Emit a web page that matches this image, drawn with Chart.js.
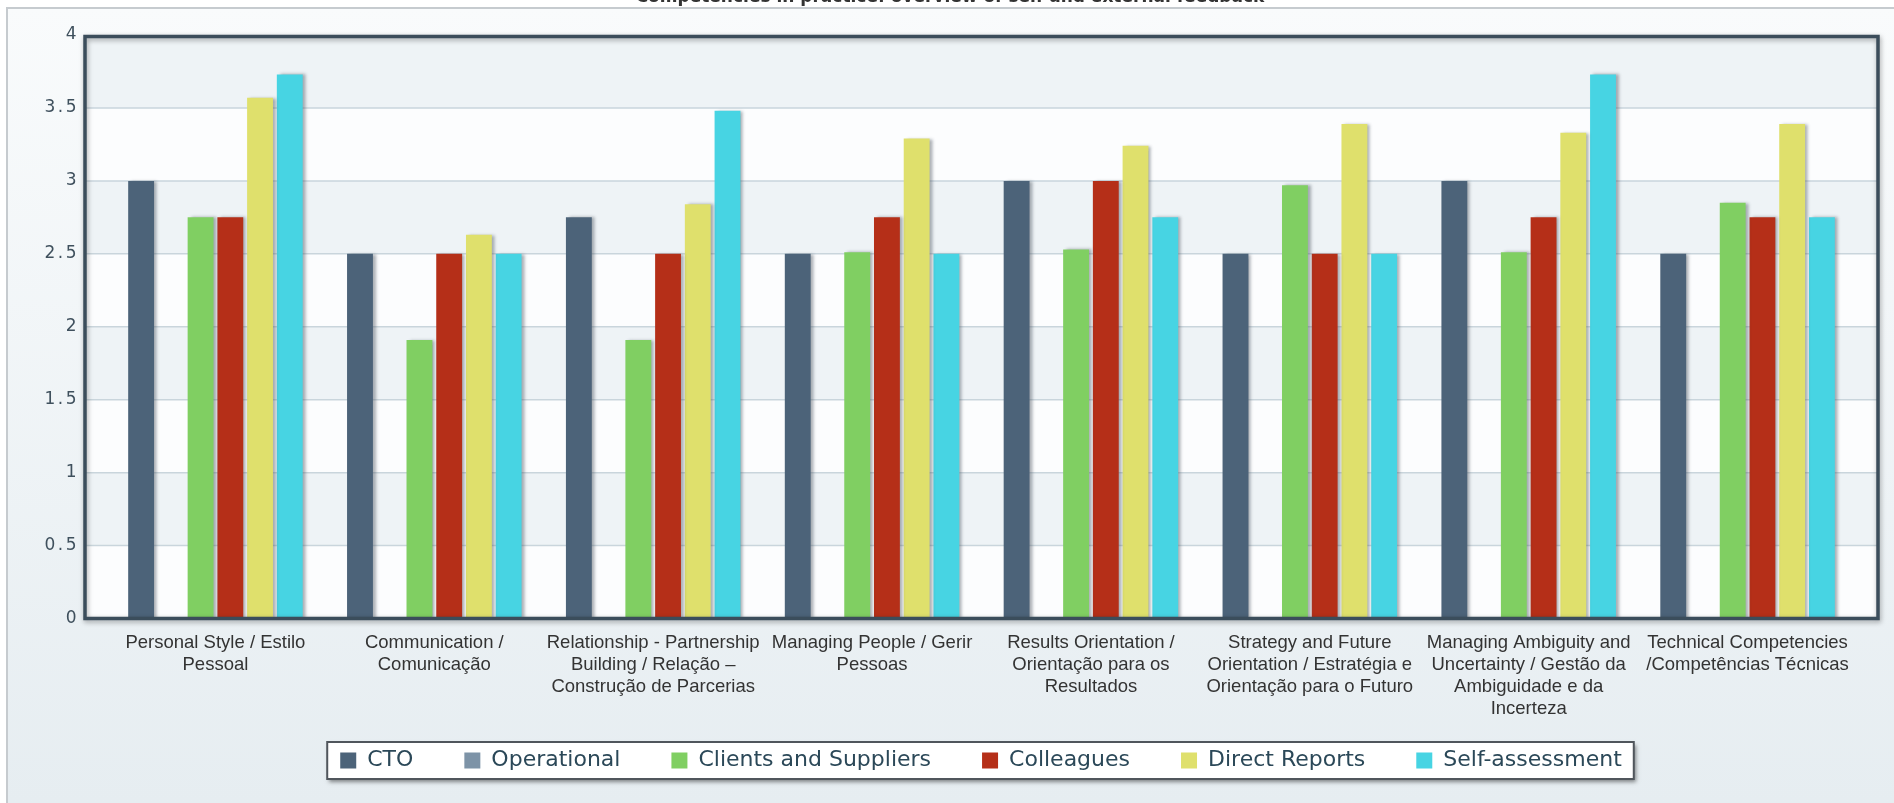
<!DOCTYPE html>
<html>
<head>
<meta charset="utf-8">
<title>Competencies in practice</title>
<script src="https://cdn.jsdelivr.net/npm/chart.js@4.4.1/dist/chart.umd.min.js"></script>
<style>
  html, body { margin: 0; padding: 0; background: #ffffff; overflow: hidden; }
  #wrap { position: relative; width: 1894px; height: 803px; }
</style>
</head>
<body>
<div id="wrap"><canvas id="chart"></canvas></div>
<script>
// ---- data ----
const chartTitle = 'Competencies in practice: overview of self and external feedback';

const categories = [
  ['Personal Style / Estilo', 'Pessoal'],
  ['Communication /', 'Comunicação'],
  ['Relationship - Partnership', 'Building / Relação –', 'Construção de Parcerias'],
  ['Managing People / Gerir', 'Pessoas'],
  ['Results Orientation /', 'Orientação para os', 'Resultados'],
  ['Strategy and Future', 'Orientation / Estratégia e', 'Orientação para o Futuro'],
  ['Managing Ambiguity and', 'Uncertainty / Gestão da', 'Ambiguidade e da', 'Incerteza'],
  ['Technical Competencies', '/Competências Técnicas']
];

const seriesNames = ['CTO', 'Operational', 'Clients and Suppliers', 'Colleagues', 'Direct Reports', 'Self-assessment'];

const ctoValues          = [3.00, 2.50, 2.75, 2.50, 3.00, 2.50, 3.00, 2.50];
const operationalValues  = [null, null, null, null, null, null, null, null];
const clientsValues      = [2.75, 1.91, 1.91, 2.51, 2.53, 2.97, 2.51, 2.85];
const colleaguesValues   = [2.75, 2.50, 2.50, 2.75, 3.00, 2.50, 2.75, 2.75];
const directValues       = [3.57, 2.63, 2.84, 3.29, 3.24, 3.39, 3.33, 3.39];
const selfValues         = [3.73, 2.50, 3.48, 2.50, 2.75, 2.50, 3.73, 2.75];

const yMin = 0;
const yMax = 4;
const yStep = 0.5;

// ---- styling ----
const seriesColors = ['#4c6379', '#7d93a7', '#80cf62', '#b52f18', '#dfe06c', '#47d4e3'];
const seriesValues = [ctoValues, operationalValues, clientsValues, colleaguesValues, directValues, selfValues];

const FRAME_PAD_LEFT = 21;
const FRAME_PAD_RIGHT = 21;
const FRAME_TOP_INSET = 1.5;
const LEGEND_CENTER_X = 980.5;
const LEGEND_CENTER_Y = 760.5;
const TITLE_CENTER_X = 950;

// Places the bordered legend strip and the title
const placementPlugin = {
  id: 'placement',
  afterLayout(chart) {
    const tb = chart.titleBlock;
    if (tb) {
      const dxT = TITLE_CENTER_X - (tb.left + tb.right) / 2;
      tb.left += dxT; tb.right += dxT;
    }
  },
  afterUpdate(chart) {
    const lg = chart.legend;
    const hb = lg && lg.legendHitBoxes;
    if (hb && hb.length) {
      const first = hb[0], last = hb[hb.length - 1];
      const cx = ((first.left - 13) + (last.left + last.width + 12)) / 2;
      const cy = first.top + first.height / 2;
      const dx = LEGEND_CENTER_X - cx, dy = LEGEND_CENTER_Y - cy;
      lg.left += dx; lg.right += dx; lg.top += dy; lg.bottom += dy;
      hb.forEach(h => { h.left += dx; h.top += dy; });
    }
  }
};

// Outer panel, banded plot background, gridlines and the legend box
const backdropPlugin = {
  id: 'backdrop',
  beforeDraw(chart) {
    const { ctx, chartArea: a, scales: { y } } = chart;
    const W = chart.width, H = chart.height;
    ctx.save();
    const g = ctx.createLinearGradient(0, 8, 0, H);
    g.addColorStop(0, '#f9fbfc');
    g.addColorStop(1, '#e6edf1');
    ctx.fillStyle = g;
    ctx.fillRect(7, 8, W - 7, H - 8);
    ctx.strokeStyle = '#c6cbcf';
    ctx.lineWidth = 2;
    ctx.beginPath();
    ctx.moveTo(7, H);
    ctx.lineTo(7, 8);
    ctx.lineTo(W, 8);
    ctx.stroke();

    const L = a.left - FRAME_PAD_LEFT, R = a.right + FRAME_PAD_RIGHT;
    const vals = y.ticks.map(t => t.value);
    for (let i = 0; i < vals.length - 1; i++) {
      const y0 = y.getPixelForValue(vals[i]);
      const y1 = y.getPixelForValue(vals[i + 1]);
      ctx.fillStyle = (i % 2 === 1) ? '#eef3f6' : '#fcfdfe';
      ctx.fillRect(L, y1, R - L, y0 - y1);
    }
    ctx.strokeStyle = '#c9d5dc';
    ctx.lineWidth = 1.5;
    for (let i = 1; i < vals.length - 1; i++) {
      const py = y.getPixelForValue(vals[i]);
      ctx.beginPath();
      ctx.moveTo(L, py);
      ctx.lineTo(R, py);
      ctx.stroke();
    }

    const hb = chart.legend && chart.legend.legendHitBoxes;
    if (hb && hb.length) {
      const first = hb[0], last = hb[hb.length - 1];
      const x0 = first.left - 13, x1 = last.left + last.width + 12;
      const cy = first.top + first.height / 2;
      ctx.shadowColor = 'rgba(0,0,0,0.45)';
      ctx.shadowBlur = 4;
      ctx.shadowOffsetX = 2;
      ctx.shadowOffsetY = 3;
      ctx.fillStyle = '#ffffff';
      ctx.fillRect(x0, cy - 18.5, x1 - x0, 37);
      ctx.shadowColor = 'transparent';
      ctx.strokeStyle = '#50565c';
      ctx.lineWidth = 2;
      ctx.strokeRect(x0, cy - 18.5, x1 - x0, 37);
    }
    ctx.restore();
  }
};

// Bar shadows, the dark plot frame and spacing for the value axis labels
const framePlugin = {
  id: 'frame',
  beforeDatasetsDraw(chart) {
    const ctx = chart.ctx;
    ctx.save();
    ctx.shadowColor = 'rgba(70,80,90,0.45)';
    ctx.shadowBlur = 3;
    ctx.shadowOffsetX = 3;
    ctx.shadowOffsetY = 0;
  },
  afterDatasetsDraw(chart) {
    const { ctx, chartArea: a, scales: { y } } = chart;
    ctx.restore();
    const L = a.left - FRAME_PAD_LEFT, R = a.right + FRAME_PAD_RIGHT;
    const top = y.getPixelForValue(yMax) + FRAME_TOP_INSET, bottom = y.getPixelForValue(yMin);
    ctx.save();
    ctx.shadowColor = 'rgba(0,0,0,0.35)';
    ctx.shadowBlur = 5;
    ctx.shadowOffsetX = 1;
    ctx.shadowOffsetY = 2;
    ctx.strokeStyle = '#3b4d5b';
    ctx.lineWidth = 3.5;
    ctx.strokeRect(L, top, R - L, bottom - top);
    ctx.restore();
    ctx.letterSpacing = '2.5px';
  },
  afterDraw(chart) {
    chart.ctx.letterSpacing = '0px';
  }
};

const datasets = seriesNames.map((name, i) => ({
  label: name,
  data: seriesValues[i],
  backgroundColor: seriesColors[i],
  borderWidth: 0,
  categoryPercentage: 0.815,
  barPercentage: 0.87
}));

Chart.defaults.font.family = "'DejaVu Sans', sans-serif";

new Chart(document.getElementById('chart'), {
  type: 'bar',
  data: { labels: categories, datasets },
  plugins: [placementPlugin, backdropPlugin, framePlugin],
  options: {
    responsive: true,
    maintainAspectRatio: false,
    animation: false,
    layout: { padding: { top: -13, left: 8, right: 37, bottom: -2.5 } },
    plugins: {
      title: {
        display: true,
        text: chartTitle,
        color: '#333333',
        font: { family: "'DejaVu Sans', sans-serif", size: 17, weight: 'bold', lineHeight: 1.2 },
        padding: { top: 0, bottom: 27.6 }
      },
      legend: {
        display: true,
        position: 'bottom',
        labels: {
          color: '#2b4858',
          font: { family: "'DejaVu Sans', sans-serif", size: 22 },
          boxWidth: 16,
          boxHeight: 16,
          padding: 51
        }
      },
      tooltip: { enabled: false }
    },
    scales: {
      x: {
        grid: { display: false },
        border: { display: false },
        ticks: {
          autoSkip: false,
          maxRotation: 0,
          minRotation: 0,
          padding: 5,
          color: '#333333',
          font: { family: "'Liberation Sans', Arial, sans-serif", size: 18.5, lineHeight: 1.2 }
        },
        afterFit(scale) { scale.height = 104; }
      },
      y: {
        min: yMin,
        max: yMax,
        grid: { display: false },
        border: { display: false },
        ticks: {
          stepSize: yStep,
          padding: 19,
          z: 1,
          color: '#3f505d',
          font: { family: "'DejaVu Sans', sans-serif", size: 17 },
          callback: (value) => String(value)
        },
        afterFit(scale) { scale.width = 98; }
      }
    }
  }
});
</script>
</body>
</html>
